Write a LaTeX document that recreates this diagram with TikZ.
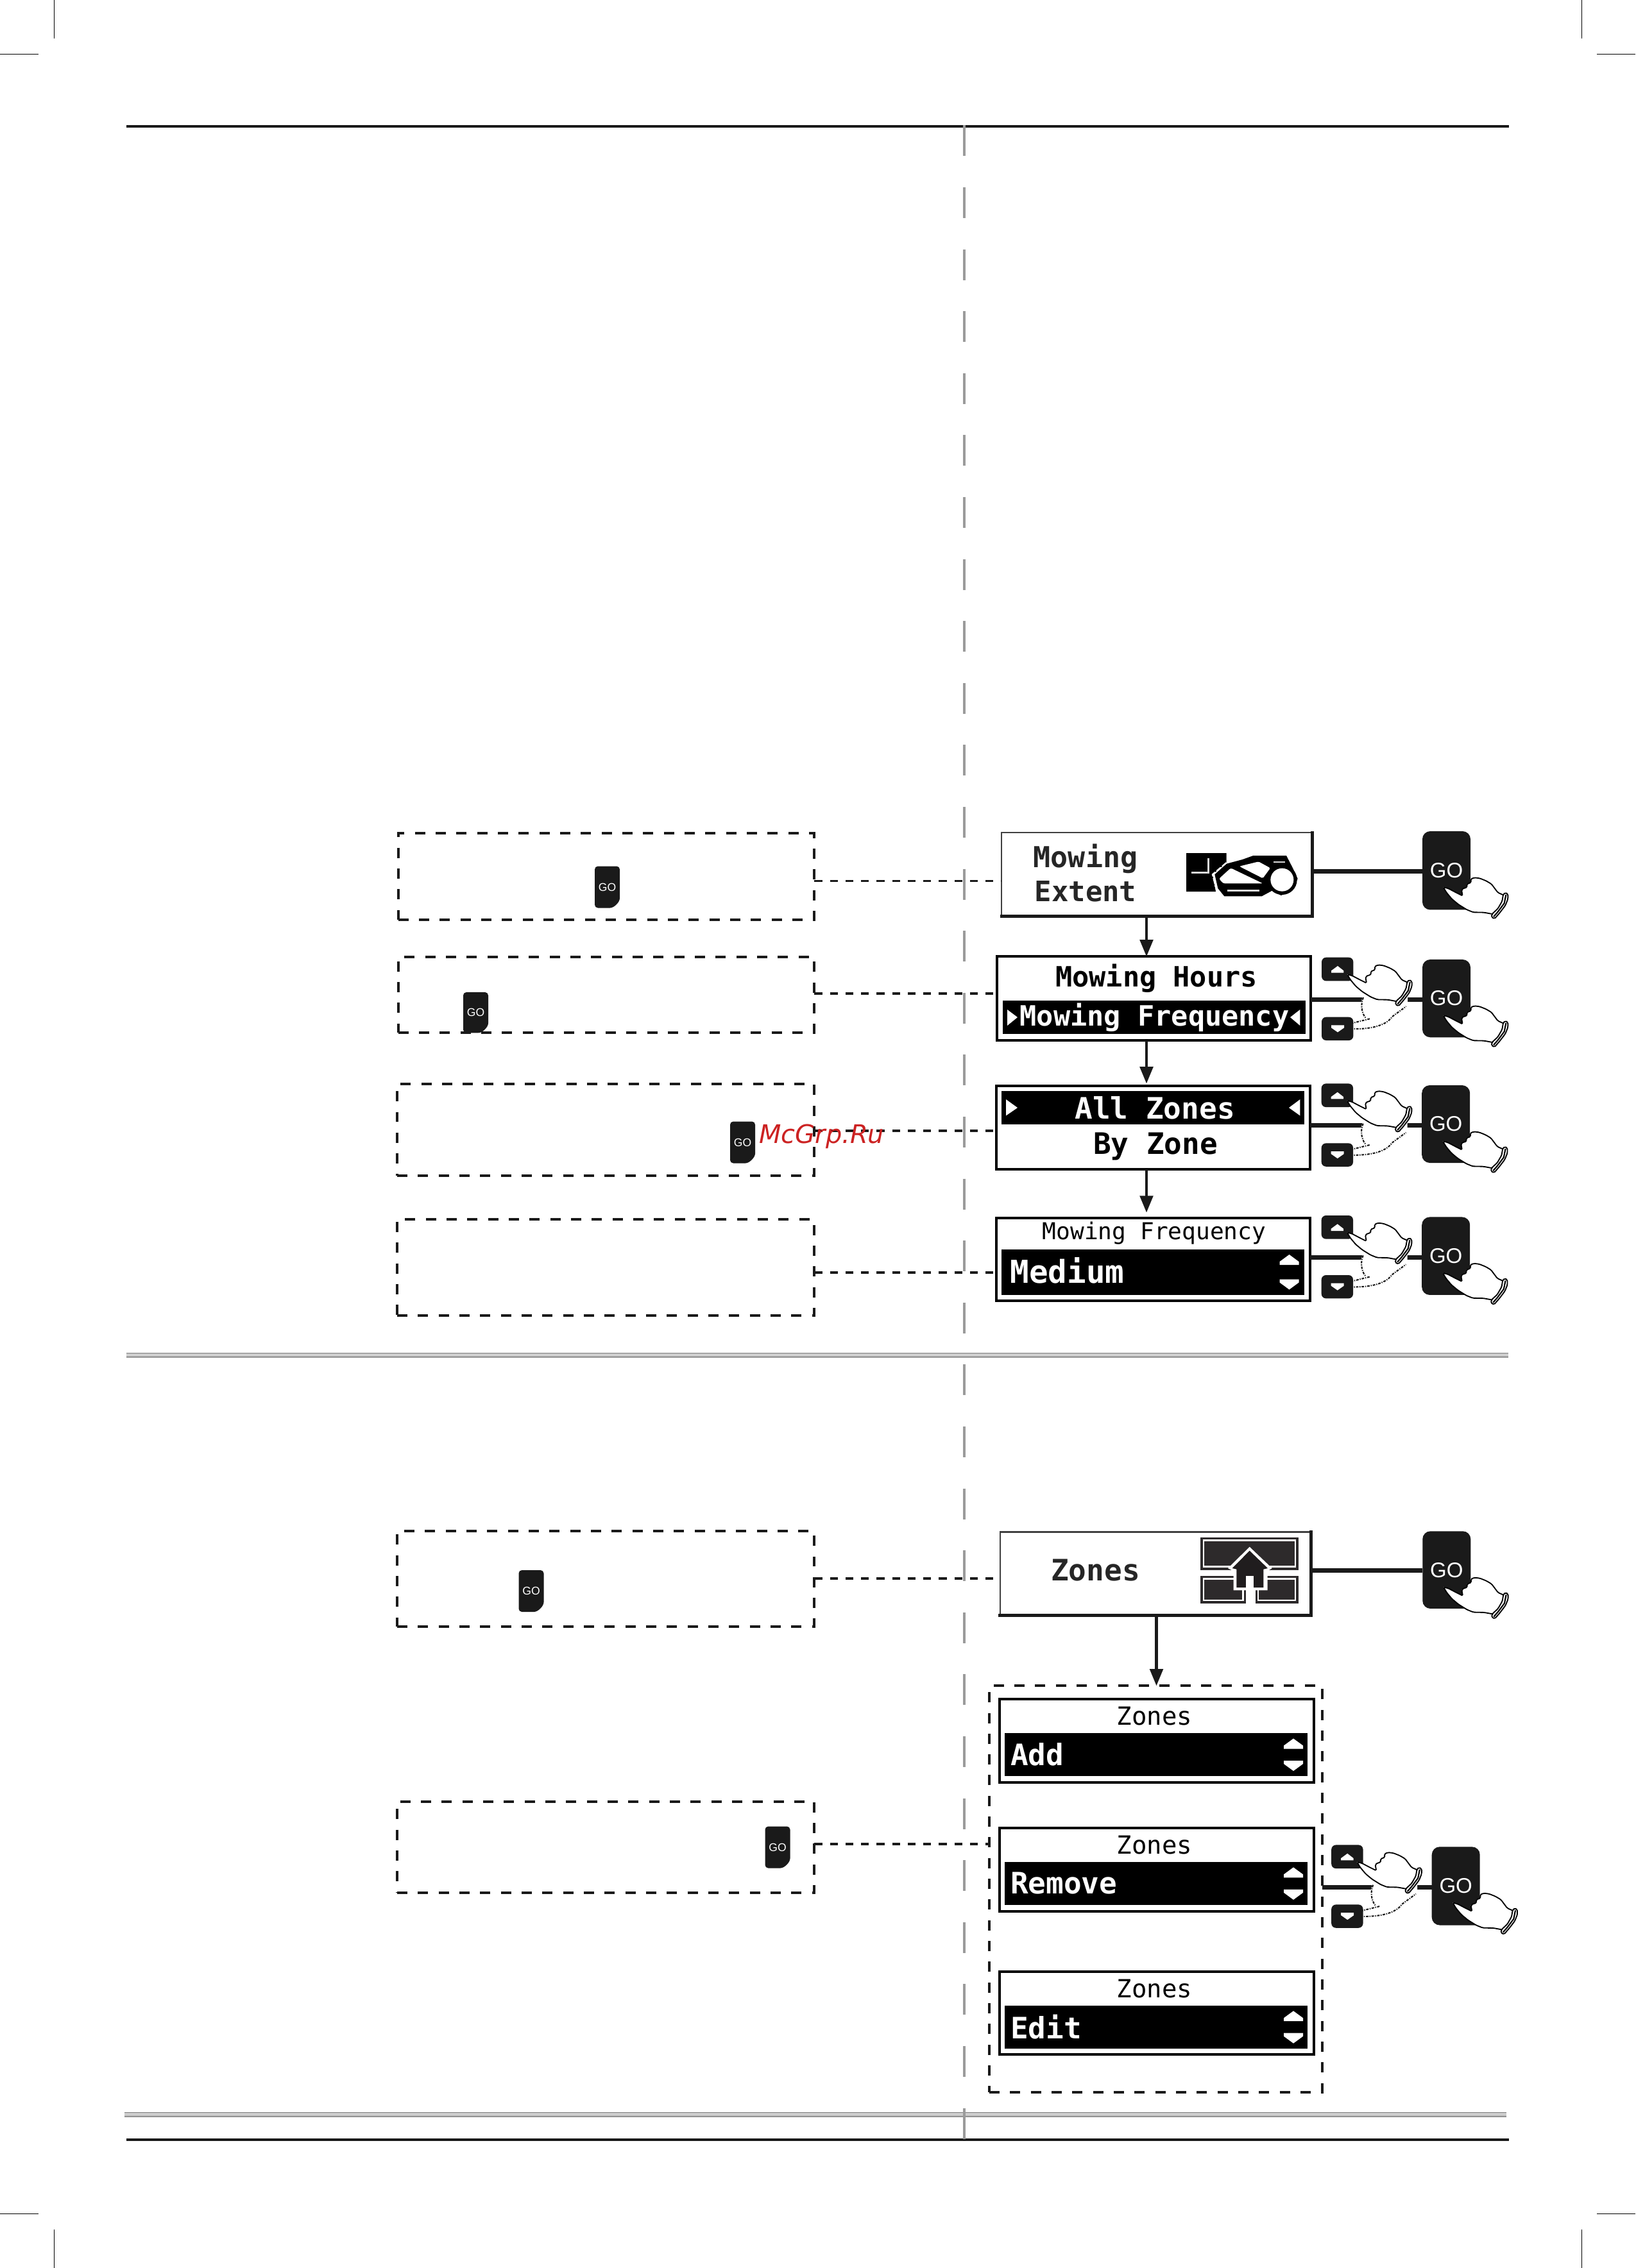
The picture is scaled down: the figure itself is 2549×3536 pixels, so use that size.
\documentclass[tikz,border=0pt]{standalone}
\usepackage{fontspec}
\usetikzlibrary{arrows.meta,calc}
\newfontfamily\lcdfont{DejaVu Sans Mono}
\newfontfamily\wmfont{DejaVu Sans}
\newfontfamily\gofont{Liberation Sans}
\definecolor{ink}{HTML}{1A1A1A}
\definecolor{rulegray}{HTML}{9B9B9B}
\definecolor{hdark}{HTML}{2D2A2B}
\definecolor{wmred}{HTML}{CC2222}
\newcommand\pixel{0.02cm}
\tikzset{
  zoomunits/.style={x=0.0066667cm,y=-0.0066667cm},
  lcdb/.style={font=\lcdfont\bfseries\fontsize{#1}{#1}\selectfont,inner sep=0pt,outer sep=0pt},
  lcdr/.style={font=\lcdfont\fontsize{#1}{#1}\selectfont,inner sep=0pt,outer sep=0pt},
  screenbox/.style={draw=black,fill=white,line width=2.28pt,inner sep=0pt,outer sep=0pt},
  softbox/.style={draw=black!75,fill=white,line width=1.3pt,inner sep=0pt,outer sep=0pt},
  hardedge/.style={draw=ink,line width=2.7pt,line cap=rect},
  hilite/.style={fill=black,inner sep=0pt,outer sep=0pt},
  notebox/.style={draw=ink,line width=2.3pt,dash pattern=on 9.1pt off 9.3pt,inner sep=0pt,outer sep=0pt},
  dashlink/.style={draw=ink,line width=2pt,dash pattern=on 7pt off 6.8pt},
  flow/.style={draw=ink,line width=2.6pt,-{Triangle[length=15pt,width=11.5pt]}},
  keylink/.style={draw=ink,line width=4pt},
  gotext/.style={text=white,inner sep=0pt,outer sep=0pt},
  blackrule/.style={fill=ink},
  grayrule/.style={fill=rulegray},
  cropmark/.style={draw=black,line width=0.75pt},
  handline/.style={draw=black,line width=1.05pt,fill=white},
  ghostline/.style={draw=ink,line width=1.2pt,dash pattern=on 2.2pt off 1pt on 0.8pt off 1pt},
  pics/hand/.style={code={\begin{scope}[zoomunits,shift={(-652,-78)}]\drawhand\end{scope}}},
  pics/navkeys/.style={code={
    \begin{scope}[zoomunits,shift={(-180,-668)}]
      \fill[white] (372,850)--(362,890)--(375,950)--(320,975)--(315,1000)--(330,1008)--(400,1000)--(480,985)--(520,935)--(582,892)--(582,850)--cycle;
      \draw[ghostline] (375,855) .. controls (362,885) and (365,925) .. (385,950);
      \draw[ghostline] (405,955) -- (325,975);
      \draw[ghostline] (315,1002) .. controls (400,1005) and (480,990) .. (510,945) -- (575,897);
      \fill[ink,rounded corners=4pt] (180,668) rectangle (328,778);
      \fill[white] (225,740)--(225,730)--(255,708)--(283,730)--(283,740)--cycle;
      \fill[ink,rounded corners=4pt] (180,947) rectangle (328,1056);
      \fill[white] (225,985)--(285,985)--(285,997)--(255,1018)--(225,997)--cycle;
    \end{scope}
    \begin{scope}[zoomunits,shift={(-630,-260)}]\drawhand\end{scope}}},
  pics/mower/.style={code={
    \begin{scope}[zoomunits]
      \fill[black] (27,30)--(215,30)--(215,75)--(150,130)--(165,210)--(27,210)--cycle;
      \draw[white!85!black,line width=1.7pt] (52,120)--(130,120)--(130,55);
      \fill[black] (160,130)--(215,80)--(290,60)--(340,42)--(495,42)--(525,100)--(548,150)--(520,205)--(470,228)--(430,205)--(380,232)--(205,232)--(175,195)--cycle;
      \draw[white,line width=1.3pt,dash pattern=on 5pt off 1.5pt] (215,75)--(150,130)--(165,190);
      \fill[white,rounded corners=1.5pt] (180,150)--(235,100)--(385,172)--(200,172)--cycle;
      \fill[white,rounded corners=1pt] (275,92)--(365,70)--(420,100)--(385,148)--cycle;
      \draw[white!85!black,line width=1.6pt] (218,205)--(370,205);
      \draw[white!85!black,line width=1.6pt] (435,72)--(490,72);
      \fill[black] (475,155) circle (70);
      \fill[white] (475,155) circle (54);
    \end{scope}}},
  pics/zonemap/.style={code={
    \begin{scope}[zoomunits]
      \fill[hdark] (212,140) rectangle (672,295);
      \draw[white,line width=1.5pt] (228,155) rectangle (657,278);
      \fill[hdark] (212,320) rectangle (425,450);
      \draw[white,line width=1.5pt] (228,335) rectangle (412,435);
      \fill[hdark] (470,320) rectangle (672,450);
      \draw[white,line width=1.5pt] (483,335) rectangle (657,435);
      \fill[white] (443,185)--(548,285)--(527,298)--(527,388)--(368,388)--(368,298)--(342,285)--cycle;
      \fill[hdark!70!black] (443,203)--(528,285)--(508,290)--(508,375)--(382,375)--(382,290)--(362,285)--cycle;
      \fill[white] (425,320) rectangle (462,452);
    \end{scope}}},
}
\newcommand\drawhand{%
  \fill[white] (1030,376)--(1010,440)--(975,465)--(940,458)--(890,457)--(860,445)--(820,420)--(790,395)--(765,365)--(750,340)--(772,345)--(810,365)--(840,380)--(835,352)--(848,343)--(860,342)--(860,325)--(880,318)--(878,302)--(895,295)--(920,298)--(950,310)--(975,325)--(990,345)--(1005,365)--cycle;
  \draw[handline,fill=none,rounded corners=1pt] (978,465)--(940,458)--(890,457)--(860,445)--(820,420)--(790,395)--(765,365)--(750,340)--(772,345)--(810,365)--(840,380)--(835,352)--(848,343)--(860,342)--(860,325)--(880,318)--(878,302)--(895,295)--(920,298)--(950,310)--(975,325)--(990,345)--(1005,365)--(1030,376);
  \draw[handline,rounded corners=1pt] (1030,374)--(1040,365)--(1052,372)--(1052,395)--(1040,425)--(1015,458)--(990,487)--(975,480)--(978,465)--(1005,440)--(1025,405)--cycle;
  \draw[black,line width=1.2pt] (1043,375)--(1035,415)--(1005,455)--(985,478);
}
% name x1 y1 x2 y2
\newcommand\lcdscreen[5]{\node[screenbox,minimum width={(#4-#2-4)*\pixel},minimum height={(#5-#3-4)*\pixel}] (#1) at ({(#2+#4)/2},{(#3+#5)/2}) {};}
\newcommand\softscreen[5]{\node[softbox,minimum width={(#4-#2-2.5)*\pixel},minimum height={(#5-#3-2.5)*\pixel}] (#1) at ({(#2+#4)/2},{(#3+#5)/2}) {};
  \draw[hardedge] (#1.north east) -- (#1.south east) -- (#1.south west);}
\newcommand\hilitebar[5]{\node[hilite,minimum width={(#4-#2)*\pixel},minimum height={(#5-#3)*\pixel}] (#1) at ({(#2+#4)/2},{(#3+#5)/2}) {};}
\newcommand\notearea[5]{\node[notebox,minimum width={(#4-#2)*\pixel},minimum height={(#5-#3)*\pixel}] (#1) at ({(#2+#4)/2},{(#3+#5)/2}) {};}
% name cx cy w h r(pt) R(px) font(pt)
\newcommand\gokey[8]{%
  \fill[ink,rounded corners=#6] ({#2-#4/2},{#3-#5/2}) -- ({#2+#4/2},{#3-#5/2}) -- ({#2+#4/2},{#3+#5/2-#7}) .. controls ({#2+#4/2},{#3+#5/2-.45*#7}) and ({#2+#4/2-.45*#7},{#3+#5/2}) .. ({#2+#4/2-#7},{#3+#5/2}) -- ({#2-#4/2},{#3+#5/2}) -- cycle;
  \node[gotext,font=\gofont\fontsize{#8}{#8}\selectfont,minimum width={#4*\pixel},minimum height={#5*\pixel}] (#1) at (#2,#3) {GO};}
\newcommand\updownpair[3]{%
  \fill[white] ({#1-15},{#2+16})--({#1-15},{#2+11})--(#1,#2)--({#1+15},{#2+11})--({#1+15},{#2+16})--cycle;
  \fill[white] ({#1-15},#3)--({#1+15},#3)--({#1+15},{#3+5})--(#1,{#3+16})--({#1-15},{#3+5})--cycle;}
\begin{document}
\begin{tikzpicture}[x=0.02cm,y=-0.02cm]
\useasboundingbox (0,0) rectangle (2549,3536);
\fill[white] (0,0) rectangle (2549,3536);
% crop marks
\draw[cropmark] (84.5,0) -- (84.5,60);
\draw[cropmark] (0,84.7) -- (60,84.7);
\draw[cropmark] (2465.5,0) -- (2465.5,60);
\draw[cropmark] (2489,84.7) -- (2549,84.7);
\draw[cropmark] (0,3451.5) -- (60,3451.5);
\draw[cropmark] (84.5,3476) -- (84.5,3536);
\draw[cropmark] (2489,3451.5) -- (2549,3451.5);
\draw[cropmark] (2465.5,3476) -- (2465.5,3536);
% rules
\fill[blackrule] (197,195) rectangle (2352,199);
\fill[grayrule] (197,2109) rectangle (2351,2111.3);
\fill[grayrule] (197,2112.2) rectangle (2351,2113.2);
\fill[grayrule] (197,2114) rectangle (2351,2117);
\fill[grayrule] (194,3293) rectangle (2348,3295.2);
\fill[grayrule] (194,3296) rectangle (2348,3297);
\fill[grayrule] (194,3298) rectangle (2348,3301);
\fill[blackrule] (197,3334) rectangle (2352,3338);
\draw[rulegray,line width=2.3pt,dash pattern=on 27.3pt off 27.68pt] (1503,195.4) -- (1503,3336);
% note frames
\notearea{note1}{620.7}{1299}{1269.4}{1433.8}
\notearea{note2}{620.7}{1492}{1269.4}{1610.3}
\notearea{note3}{619}{1690}{1269.4}{1832.8}
\notearea{note4}{619}{1901}{1269.4}{2051}
\notearea{note5}{619}{2387}{1269.4}{2535.6}
\notearea{note6}{619}{2808.6}{1269.4}{2951}
\notearea{zonegroup}{1542}{2628.4}{2061}{3261.7}
\gokey{gos1}{946.5}{1383}{39}{65}{2.8pt}{20}{10pt}
\gokey{gos2}{741.5}{1578.6}{39}{63.3}{2.8pt}{20}{10pt}
\gokey{gos3}{1157.5}{1781}{39}{65}{2.8pt}{20}{10pt}
\gokey{gos5}{828}{2480.5}{39}{65}{2.8pt}{20}{10pt}
\gokey{gos6}{1212}{2880}{39}{65}{2.8pt}{20}{10pt}
% screens
\softscreen{scr1}{1560}{1297}{2046.5}{1429.7}
\lcdscreen{scr2}{1551.7}{1489.4}{2045.4}{1623.6}
\lcdscreen{scr3}{1550.5}{1691}{2044}{1824.6}
\lcdscreen{scr4}{1550.5}{1896.5}{2044}{2030}
\softscreen{scr5}{1557.4}{2387.3}{2044.8}{2520}
\lcdscreen{scr6}{1555.7}{2646.8}{2050}{2780.5}
\lcdscreen{scr7}{1555.7}{2847.7}{2050}{2981.5}
\lcdscreen{scr8}{1555.7}{3071.6}{2050}{3205}
% screen 1
\node[lcdb=25.6pt,text=black!85] (t1a) at (1692,1339) {Mowing};
\node[lcdb=25pt,text=black!85] (t1b) at (1692,1390) {Extent};
\pic at (1840,1320) {mower};
% screen 2
\node[lcdb=24.8pt] (t2a) at (1802.5,1525) {Mowing Hours};
\hilitebar{bar2}{1563}{1559.8}{2035}{1611.8}
\node[lcdb=24.8pt,text=white] (t2b) at (1799.6,1586) {Mowing Frequency};
\fill[white] (1570,1574)--(1586,1586)--(1570,1599)--cycle;
\fill[white] (2026.4,1574)--(2011,1586)--(2026.4,1599)--cycle;
% screen 3
\hilitebar{bar3}{1561}{1701}{2033}{1753}
\node[lcdb=26.2pt,text=white] (t3a) at (1800,1727.6) {All Zones};
\node[lcdb=26.2pt] (t3b) at (1801,1787) {By Zone};
\fill[white] (1568,1714)--(1586,1727)--(1568,1739.4)--cycle;
\fill[white] (2026.4,1714)--(2009,1727)--(2026.4,1739.4)--cycle;
% screen 4
\node[lcdr=20.6pt] (t4a) at (1799,1923) {Mowing Frequency};
\hilitebar{bar4}{1561}{1947.6}{2033}{2019}
\node[lcdb=28pt,text=white,anchor=west] (t4b) at (1574.6,1981) {Medium};
\updownpair{2009.5}{1956}{1994.5}
% screen 5
\node[lcdb=26.2pt,text=black!85] (t5a) at (1707.5,2447.6) {Zones};
\pic at (1800,2350) {zonemap};
% screens 6-8
\node[lcdr=22.2pt] (t6a) at (1799.6,2676) {Zones};
\hilitebar{bar6}{1566}{2702}{2038}{2769}
\node[lcdb=26.2pt,text=white,anchor=west] (t6b) at (1575,2735) {Add};
\updownpair{2016}{2710.5}{2745}
\node[lcdr=22.2pt] (t7a) at (1799.6,2877) {Zones};
\hilitebar{bar7}{1566}{2902.8}{2038}{2970}
\node[lcdb=26.2pt,text=white,anchor=west] (t7b) at (1575,2936) {Remove};
\updownpair{2016}{2911.3}{2945.8}
\node[lcdr=22.2pt] (t8a) at (1799.6,3101) {Zones};
\hilitebar{bar8}{1566}{3126.7}{2038}{3193.8}
\node[lcdb=26.2pt,text=white,anchor=west] (t8b) at (1575,3160) {Edit};
\updownpair{2016}{3135.2}{3169.7}
% GO keys
\gokey{go1}{2254.5}{1357.2}{75}{122.5}{7pt}{15}{18.8pt}
\gokey{go2}{2254.5}{1556.6}{75}{121.3}{7pt}{15}{18.8pt}
\gokey{go3}{2253.7}{1752.5}{75}{121}{7pt}{15}{18.8pt}
\gokey{go4}{2253.7}{1958.2}{75}{121.5}{7pt}{15}{18.8pt}
\gokey{go5}{2254.8}{2447.6}{75}{120.7}{7pt}{15}{18.8pt}
\gokey{go6}{2269.2}{2940.4}{75}{122.2}{7pt}{15}{18.8pt}
% dashed links
\coordinate (y1) at (0,1373.6);
\coordinate (y2) at (0,1549);
\coordinate (y3) at (0,1763);
\coordinate (y4) at (0,1983.8);
\coordinate (y5) at (0,2460.8);
\coordinate (y6) at (0,2875);
\draw[dashlink] (note1.east |- y1) -- (scr1.west |- y1);
\draw[dashlink] (note2.east |- y2) -- (scr2.west |- y2);
\draw[dashlink] (note3.east |- y3) -- (scr3.west |- y3);
\draw[dashlink] (note4.east |- y4) -- (scr4.west |- y4);
\draw[dashlink] (note5.east |- y5) -- (scr5.west |- y5);
\draw[dashlink] (note6.east |- y6) -- (zonegroup.west |- y6);
% flow arrows
\coordinate (fx) at (1787,0);
\coordinate (gx) at (1802.5,0);
\draw[flow] (fx |- scr1.south) -- (fx |- scr2.north);
\draw[flow] (fx |- scr2.south) -- ([yshift=2pt]fx |- scr3.north);
\draw[flow,shorten >=4.5pt] (fx |- scr3.south) -- (fx |- scr4.north);
\draw[flow] (gx |- scr5.south) -- (gx |- zonegroup.north);
% key links
\coordinate (k1) at (0,1358.5);
\coordinate (k2) at (0,1558.7);
\coordinate (k3) at (0,1754);
\coordinate (k4) at (0,1960);
\coordinate (k5) at (0,2448.7);
\coordinate (k6) at (0,2942.4);
\draw[keylink] (scr1.east |- k1) -- (go1.west |- k1);
\draw[keylink] (scr2.east |- k2) -- (go2.west |- k2);
\draw[keylink] (scr3.east |- k3) -- (go3.west |- k3);
\draw[keylink] (scr4.east |- k4) -- (go4.west |- k4);
\draw[keylink] (scr5.east |- k5) -- (go5.west |- k5);
\draw[keylink] (zonegroup.east |- k6) -- (go6.west |- k6);
% hands
\pic at (2060,1492.7) {navkeys};
\pic at (2059.7,1689.4) {navkeys};
\pic at (2059.7,1895) {navkeys};
\pic at (2075.2,2876.4) {navkeys};
\pic at (go1.north west) {hand};
\pic at (go2.north west) {hand};
\pic at (go3.north west) {hand};
\pic at (go4.north west) {hand};
\pic at (go5.north west) {hand};
\pic at (go6.north west) {hand};
% watermark
\node[font=\wmfont\itshape\fontsize{22.7pt}{22.7pt}\selectfont,text=wmred,anchor=base west,inner sep=0pt] (wm) at (1183,1782.8) {McGrp.Ru};
\end{tikzpicture}
\end{document}
